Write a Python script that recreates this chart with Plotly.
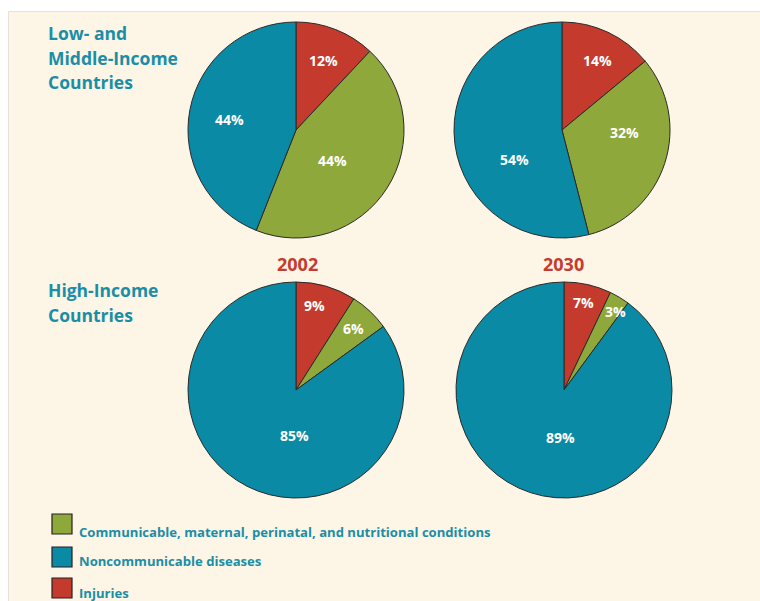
import math
import plotly.graph_objects as go

W, H = 760, 601

# Cause-of-death groups (drawn clockwise from 12 o'clock in this order)
causes = ["Injuries",
          "Communicable, maternal, perinatal, and nutritional conditions",
          "Noncommunicable diseases"]
cause_colors = ["#c43b2e", "#8fa83b", "#0a8aa5"]

# Share of deaths (%) by income group and year
low_mid_2002 = [12, 44, 44]
low_mid_2030 = [14, 32, 54]
high_2002 = [9, 6, 85]
high_2030 = [7, 3, 89]

years = ["2002", "2030"]
group_titles = [["Low- and", "Middle-Income", "Countries"],
                ["High-Income", "Countries"]]

# Legend order as shown under the charts
legend_order = [1, 2, 0]

FONT = "Open Sans"
TEAL_TEXT = "#1a8ea6"
RED_TEXT = "#c63a2f"
BG = "#fdf5e6"


def px_x(v):
    return v / W


def px_y(v):
    return 1 - v / H


# pie layout: (values, centre x px, centre y px)
R = 108
pies = [
    (low_mid_2002, 296, 130),
    (low_mid_2030, 562, 130),
    (high_2002, 296, 390),
    (high_2030, 564, 390),
]

# per-label placement tweaks: (angle nudge in degrees, radius fraction)
label_place = [
    [(0, 0.69), (8, 0.44), (-2, 0.62)],
    [(2, 0.72), (-16, 0.58), (-25, 0.52)],
    [(-4, 0.80), (0, 0.78), (-25, 0.42)],
    [(0, 0.83), (2, 0.87), (-14, 0.44)],
]

fig = go.Figure()

annotations = []
for k, (vals, cx, cy) in enumerate(pies):
    fig.add_trace(go.Pie(
        labels=causes,
        values=vals,
        sort=False,
        direction="clockwise",
        rotation=0,
        marker=dict(colors=cause_colors, line=dict(color="#2a2a2a", width=1)),
        textinfo="none",
        hoverinfo="label+value",
        showlegend=False,
        domain=dict(x=[px_x(cx - R), px_x(cx + R)],
                    y=[px_y(cy + R), px_y(cy - R)]),
    ))
    total = sum(vals)
    cum = 0
    for j, v in enumerate(vals):
        mid = (cum + v / 2) / total * 360
        cum += v
        nudge, rf = label_place[k][j]
        ang = math.radians(mid + nudge)
        lx = cx + rf * R * math.sin(ang)
        ly = cy - rf * R * math.cos(ang)
        annotations.append(dict(
            x=px_x(lx), y=px_y(ly), xref="paper", yref="paper",
            text=f"<b>{v}%</b>", showarrow=False,
            font=dict(family=FONT, size=14, color="white"),
            xanchor="center", yanchor="middle"))

# group titles, one line per annotation for even spacing
for lines, ty in zip(group_titles, [33, 290]):
    for i, line in enumerate(lines):
        annotations.append(dict(
            x=px_x(46), y=px_y(ty + i * 24.5), xref="paper", yref="paper",
            text=f"<b>{line}</b>", showarrow=False, align="left",
            xanchor="left", yanchor="middle",
            font=dict(family=FONT, size=17.5, color=TEAL_TEXT)))

# year headings
for yr, yx in zip(years, [297, 563]):
    annotations.append(dict(
        x=px_x(yx), y=px_y(264), xref="paper", yref="paper",
        text=f"<b>{yr}</b>", showarrow=False,
        xanchor="center", yanchor="middle",
        font=dict(family=FONT, size=18, color=RED_TEXT)))

shapes = [dict(type="rect", xref="paper", yref="paper",
               x0=px_x(8.5), x1=px_x(W + 2), y0=px_y(H + 2), y1=px_y(11.5),
               fillcolor=BG, line=dict(color="#e6e2da", width=1), layer="below")]

# legend swatches and labels
for row, idx in enumerate(legend_order):
    sy = [514, 547, 578][row]
    shapes.append(dict(type="rect", xref="paper", yref="paper",
                       x0=px_x(52), x1=px_x(72), y0=px_y(sy + 20), y1=px_y(sy),
                       fillcolor=cause_colors[idx], line=dict(color="#222", width=1.2)))
    annotations.append(dict(
        x=px_x(77), y=px_y([532, 561, 593][row]), xref="paper", yref="paper",
        text=f"<b>{causes[idx]}</b>", showarrow=False,
        xanchor="left", yanchor="middle",
        font=dict(family=FONT, size=13.1, color=TEAL_TEXT)))

fig.update_layout(
    width=W, height=H,
    margin=dict(l=0, r=0, t=0, b=0),
    paper_bgcolor="white",
    plot_bgcolor="white",
    shapes=shapes,
    annotations=annotations,
)

fig.write_html("out.html")
